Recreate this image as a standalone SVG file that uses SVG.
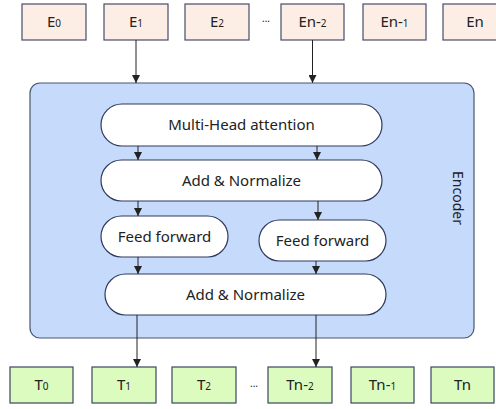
<svg xmlns="http://www.w3.org/2000/svg" width="496" height="409" viewBox="0 0 496 409">
<defs>
<style>
text{font-family:"Noto Sans","DejaVu Sans",sans-serif;font-size:15px;fill:#222;}
.e{fill:#fdeee5;stroke:#474d6c;stroke-width:1.2;}
.t{fill:#dbfbbf;stroke:#3a4760;stroke-width:1.2;}
.enc{fill:#c6dbfb;stroke:#4a5570;stroke-width:1.2;}
.p{fill:#ffffff;stroke:#2e3a5e;stroke-width:1.2;}
.c{stroke:#222;stroke-width:1;fill:none;marker-end:url(#ah);}
.s{font-size:10px;}
</style>
<marker id="ah" viewBox="0 0 8 8" refX="8" refY="4" markerWidth="8" markerHeight="8" markerUnits="userSpaceOnUse" orient="auto">
<path d="M0,0 L8,4 L0,8 z" fill="#222"/>
</marker>
</defs>
<rect width="496" height="409" fill="#ffffff"/>
<g id="encoder">
<rect class="enc" x="30" y="83" width="444" height="255" rx="10"/>
<text transform="translate(453,198) rotate(90)" text-anchor="middle" style="font-size:14px">Encoder</text>
</g>
<g id="E0"><rect class="e" x="22" y="4" width="64" height="36"/><text x="54" y="27" text-anchor="middle">E<tspan class="s">0</tspan></text></g>
<g id="E1"><rect class="e" x="104" y="4" width="64" height="36"/><text x="136" y="27" text-anchor="middle">E<tspan class="s">1</tspan></text></g>
<g id="E2"><rect class="e" x="185" y="4" width="64" height="36"/><text x="217" y="27" text-anchor="middle">E<tspan class="s">2</tspan></text></g>
<g id="Edots"><text x="266" y="22" text-anchor="middle" style="font-size:10px">...</text></g>
<g id="En2"><rect class="e" x="281" y="4" width="63" height="36"/><text x="312.5" y="27" text-anchor="middle">En-<tspan class="s">2</tspan></text></g>
<g id="En1"><rect class="e" x="363" y="4" width="63" height="36"/><text x="394.5" y="27" text-anchor="middle">En-<tspan class="s">1</tspan></text></g>
<g id="En"><rect class="e" x="443" y="4" width="64" height="36"/><text x="475" y="27" text-anchor="middle">En</text></g>
<g id="mha"><rect class="p" x="101" y="104" width="281" height="42" rx="21"/><text x="241.5" y="130" text-anchor="middle">Multi-Head attention</text></g>
<g id="an1"><rect class="p" x="101" y="160" width="281" height="41" rx="20.5"/><text x="241.5" y="185.5" text-anchor="middle">Add &amp; Normalize</text></g>
<g id="ff1"><rect class="p" x="101" y="216" width="127" height="41" rx="20.5"/><text x="164.5" y="241.5" text-anchor="middle">Feed forward</text></g>
<g id="ff2"><rect class="p" x="259" y="220" width="127" height="41" rx="20.5"/><text x="322.5" y="245.5" text-anchor="middle">Feed forward</text></g>
<g id="an2"><rect class="p" x="105" y="274" width="281" height="41" rx="20.5"/><text x="245.5" y="299.5" text-anchor="middle">Add &amp; Normalize</text></g>
<g id="T0"><rect class="t" x="10" y="367" width="63" height="36"/><text x="41.5" y="390" text-anchor="middle">T<tspan class="s">0</tspan></text></g>
<g id="T1"><rect class="t" x="92" y="367" width="64" height="36"/><text x="124" y="390" text-anchor="middle">T<tspan class="s">1</tspan></text></g>
<g id="T2"><rect class="t" x="172" y="367" width="64" height="36"/><text x="204" y="390" text-anchor="middle">T<tspan class="s">2</tspan></text></g>
<g id="Tdots"><text x="254" y="387" text-anchor="middle" style="font-size:10px">...</text></g>
<g id="Tn2"><rect class="t" x="268" y="367" width="64" height="36"/><text x="300" y="390" text-anchor="middle">Tn-<tspan class="s">2</tspan></text></g>
<g id="Tn1"><rect class="t" x="351" y="367" width="63" height="36"/><text x="382.5" y="390" text-anchor="middle">Tn-<tspan class="s">1</tspan></text></g>
<g id="Tn"><rect class="t" x="431" y="367" width="63" height="36"/><text x="462.5" y="390" text-anchor="middle">Tn</text></g>
<g id="connectors">
<line class="c" x1="136" y1="40" x2="136" y2="83"/>
<line class="c" x1="312.5" y1="40" x2="312.5" y2="83"/>
<line class="c" x1="138" y1="146" x2="138" y2="160"/>
<line class="c" x1="317" y1="146" x2="317" y2="160"/>
<line class="c" x1="138" y1="201" x2="138" y2="216"/>
<line class="c" x1="318" y1="201" x2="318" y2="220"/>
<line class="c" x1="138" y1="257" x2="138" y2="274"/>
<line class="c" x1="316" y1="261" x2="316" y2="274"/>
<line class="c" x1="137" y1="315" x2="137" y2="367"/>
<line class="c" x1="316" y1="315" x2="316" y2="367"/>
</g>
</svg>
